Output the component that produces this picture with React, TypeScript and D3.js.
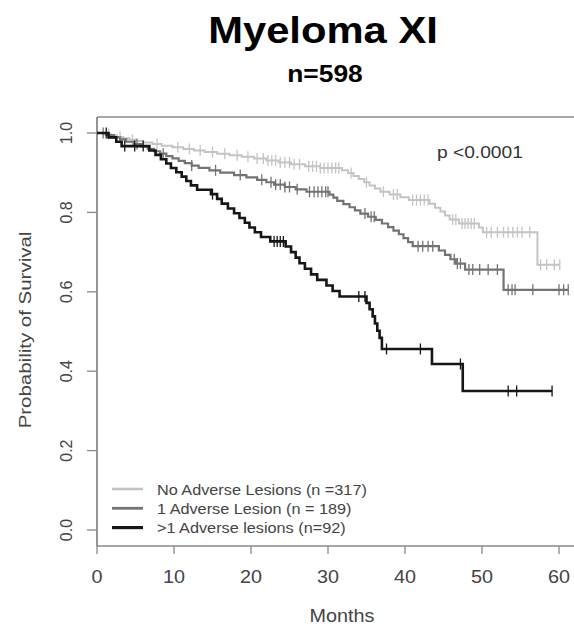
import React from "react";
import * as d3 from "d3";

// Kaplan–Meier step estimates: [month, survival after the drop]
const noAdverseSteps: [number, number][] = [
  [0, 1], [0.8, 0.997], [1.8, 0.994], [2.6, 0.99], [3.4, 0.987], [4.2, 0.983], [5.0, 0.98],
  [6.0, 0.976], [7.2, 0.972], [8.4, 0.968], [9.8, 0.964], [11.2, 0.96], [12.6, 0.956],
  [14.0, 0.952], [15.6, 0.948], [17.2, 0.944], [18.8, 0.94], [20.4, 0.936], [22.0, 0.931],
  [23.6, 0.926], [25.2, 0.921], [27.0, 0.916], [29.0, 0.912], [31.8, 0.906], [32.6, 0.899],
  [33.3, 0.892], [34.0, 0.884], [34.7, 0.876], [35.4, 0.868], [36.1, 0.86], [36.8, 0.852],
  [38.0, 0.845], [39.4, 0.838], [40.5, 0.831], [43.2, 0.822], [43.9, 0.812], [44.6, 0.802],
  [45.2, 0.792], [45.8, 0.782], [47.0, 0.772], [49.6, 0.762], [50.1, 0.75], [57.2, 0.668],
];
const noAdverseEnd = 60.1;
const noAdverseCensored = [
  1.5, 3.0, 4.6, 7.8, 10.5, 12.0, 13.4, 15.0, 16.6, 18.2, 19.6, 20.8, 21.6, 22.2, 22.7, 23.2,
  23.8, 24.4, 25.0, 25.6, 26.3, 27.5, 28.0, 28.5, 29.0, 29.5, 30.0, 30.5, 31.0, 31.4, 33.0,
  35.0, 37.2, 38.5, 39.0, 41.0, 41.5, 42.0, 42.5, 43.0, 46.2, 46.6, 47.4, 47.8, 48.2, 48.6,
  49.0, 50.6, 51.2, 52.0, 52.8, 53.4, 54.0, 54.6, 55.2, 56.2, 57.6, 58.4, 59.4, 60.1,
];

const oneAdverseSteps: [number, number][] = [
  [0, 1], [1.2, 0.995], [2.2, 0.989], [3.0, 0.984], [3.8, 0.978], [4.8, 0.972], [5.8, 0.966],
  [6.6, 0.96], [7.4, 0.954], [8.2, 0.948], [9.0, 0.942], [9.8, 0.936], [10.6, 0.93],
  [11.4, 0.924], [12.3, 0.918], [13.2, 0.912], [14.6, 0.906], [16.0, 0.9], [17.8, 0.894],
  [19.4, 0.888], [20.8, 0.882], [22.0, 0.876], [23.0, 0.87], [24.4, 0.864], [25.8, 0.858],
  [27.2, 0.852], [30.2, 0.845], [30.7, 0.837], [31.2, 0.829], [32.0, 0.821], [32.8, 0.813],
  [33.5, 0.805], [34.2, 0.797], [35.2, 0.789], [36.2, 0.781], [37.0, 0.772], [37.8, 0.763],
  [38.5, 0.754], [39.2, 0.745], [39.8, 0.735], [40.4, 0.725], [41.0, 0.715], [44.4, 0.704],
  [45.2, 0.693], [45.9, 0.682], [46.6, 0.671], [47.8, 0.656], [52.8, 0.605],
];
const oneAdverseEnd = 61.2;
const oneAdverseCensored = [
  0.8, 5.2, 8.6, 12.3, 15.4, 18.6, 21.4, 22.6, 23.2, 23.8, 24.4, 25.0, 26.0, 27.6, 28.2, 28.7,
  29.2, 29.7, 30.0, 34.8, 35.6, 36.0, 41.7, 42.3, 43.0, 43.6, 46.4, 46.8, 47.2, 48.3, 48.8,
  49.7, 50.8, 52.0, 53.4, 53.9, 54.3, 56.6, 60.0, 60.6, 61.2,
];

const multiAdverseSteps: [number, number][] = [
  [0, 1], [1.5, 0.989], [2.5, 0.978], [3.2, 0.967], [6.8, 0.956], [7.6, 0.945], [8.3, 0.934],
  [9.0, 0.923], [9.6, 0.912], [10.3, 0.901], [11.0, 0.89], [11.6, 0.879], [12.2, 0.868],
  [13.0, 0.857], [14.8, 0.846], [15.6, 0.834], [16.2, 0.822], [17.0, 0.81], [17.8, 0.798],
  [18.5, 0.786], [19.2, 0.774], [19.8, 0.762], [20.5, 0.75], [21.3, 0.738], [22.5, 0.727],
  [24.5, 0.714], [25.2, 0.7], [25.8, 0.686], [26.3, 0.672], [27.0, 0.658], [27.8, 0.644],
  [28.6, 0.63], [29.8, 0.616], [30.6, 0.602], [31.5, 0.588], [35.0, 0.572], [35.4, 0.556],
  [35.8, 0.538], [36.1, 0.52], [36.4, 0.502], [36.7, 0.484], [37.0, 0.456], [43.5, 0.418],
  [47.5, 0.35],
];
const multiAdverseEnd = 59.1;
const multiAdverseCensored = [
  1.2, 3.6, 4.9, 6.0, 15.0, 23.0, 23.4, 23.8, 24.2, 34.0, 34.8, 37.6, 42.0, 47.2, 53.4, 54.5, 59.1,
];

const legendLabels = [
  "No Adverse Lesions (n =317)",
  "1 Adverse Lesion (n = 189)",
  ">1 Adverse lesions (n=92)",
];
const xTicks = [0, 10, 20, 30, 40, 50, 60];
const yTicks = [0, 0.2, 0.4, 0.6, 0.8, 1.0];

const W = 574;
const H = 626;
const FONT = "'Liberation Sans', Arial, Helvetica, sans-serif";
const AXIS = "#8a8a8a";

const x = d3.scaleLinear().domain([0, 60]).range([97, 559]);
const y = d3.scaleLinear().domain([0, 1]).range([530, 133]);

const stepLine = d3
  .line<[number, number]>()
  .x((d) => x(d[0]))
  .y((d) => y(d[1]))
  .curve(d3.curveStepAfter);

function survivalAt(steps: [number, number][], t: number): number {
  let s = 1;
  for (const [tt, v] of steps) {
    if (tt <= t) s = v;
    else break;
  }
  return s;
}

interface Group {
  steps: [number, number][];
  end: number;
  censored: number[];
  color: string;
  width: number;
  label: string;
}

const groups: Group[] = [
  { steps: noAdverseSteps, end: noAdverseEnd, censored: noAdverseCensored, color: "#c4c4c4", width: 2, label: legendLabels[0] },
  { steps: oneAdverseSteps, end: oneAdverseEnd, censored: oneAdverseCensored, color: "#737373", width: 2.2, label: legendLabels[1] },
  { steps: multiAdverseSteps, end: multiAdverseEnd, censored: multiAdverseCensored, color: "#161616", width: 2.6, label: legendLabels[2] },
];

function Curve({ g }: { g: Group }) {
  const last = g.steps[g.steps.length - 1];
  const pts: [number, number][] = [...g.steps, [g.end, last[1]]];
  return (
    <g>
      <path d={stepLine(pts) ?? ""} fill="none" stroke={g.color} strokeWidth={g.width} />
      {g.censored.map((t, i) => {
        const cy = y(survivalAt(g.steps, t));
        return (
          <line key={i} x1={x(t)} x2={x(t)} y1={cy - 5.5} y2={cy + 5.5} stroke={g.color} strokeWidth={1.3} />
        );
      })}
    </g>
  );
}

export default function App() {
  const left = 97;
  const top = 117;
  const bottom = 546;
  return (
    <svg width={W} height={H} style={{ display: "block", position: "absolute", left: 0, top: 0, background: "#fff" }}>
      <rect width={W} height={H} fill="#fff" />
      {/* titles */}
      <text transform="translate(323,43) scale(1.16,1)" textAnchor="middle" fontFamily={FONT} fontWeight="bold" fontSize={36} fill="#000">
        Myeloma XI
      </text>
      <text transform="translate(325,82) scale(1.1,1)" textAnchor="middle" fontFamily={FONT} fontWeight="bold" fontSize={24} fill="#000">
        n=598
      </text>

      {/* frame */}
      <line x1={left} x2={W} y1={top} y2={top} stroke="#a8a8a8" strokeWidth={2} />
      <line x1={left} x2={W} y1={bottom} y2={bottom} stroke={AXIS} strokeWidth={1.6} />
      <line x1={left} x2={left} y1={top} y2={bottom} stroke="#7a7a7a" strokeWidth={1.6} />

      {/* y axis */}
      {yTicks.map((v) => (
        <g key={v}>
          <line x1={87} x2={left} y1={y(v)} y2={y(v)} stroke={AXIS} strokeWidth={1.3} />
          <text
            transform={`translate(72,${y(v)}) rotate(-90)`}
            textAnchor="middle"
            fontFamily={FONT}
            fontSize={16}
            fill="#444"
          >
            {v.toFixed(1)}
          </text>
        </g>
      ))}
      <text transform="translate(31,330) rotate(-90) scale(1.28,1)" textAnchor="middle" fontFamily={FONT} fontSize={16} fill="#444">
        Probability of Survival
      </text>

      {/* x axis */}
      {xTicks.map((v) => (
        <g key={v}>
          <line x1={x(v)} x2={x(v)} y1={bottom} y2={bottom + 8} stroke={AXIS} strokeWidth={1.3} />
          <text transform={`translate(${x(v)},583) scale(1.1,1)`} textAnchor="middle" fontFamily={FONT} fontSize={18} fill="#444">
            {v}
          </text>
        </g>
      ))}
      <text transform="translate(342,622) scale(1.1,1)" textAnchor="middle" fontFamily={FONT} fontSize={18} fill="#444">
        Months
      </text>

      {/* curves */}
      {groups.map((g, i) => (
        <Curve key={i} g={g} />
      ))}

      {/* p value */}
      <text transform="translate(437,158) scale(1.2,1)" fontFamily={FONT} fontSize={16} fill="#333">
        p &lt;0.0001
      </text>

      {/* legend */}
      {groups.map((g, i) => {
        const ly = 489 + i * 19.3;
        return (
          <g key={i}>
            <line x1={112} x2={143} y1={ly} y2={ly} stroke={g.color} strokeWidth={g.width + 0.6} />
            <text transform={`translate(157,${ly + 5.5}) scale(1.16,1)`} fontFamily={FONT} fontSize={14} fill="#444">
              {g.label}
            </text>
          </g>
        );
      })}
    </svg>
  );
}
